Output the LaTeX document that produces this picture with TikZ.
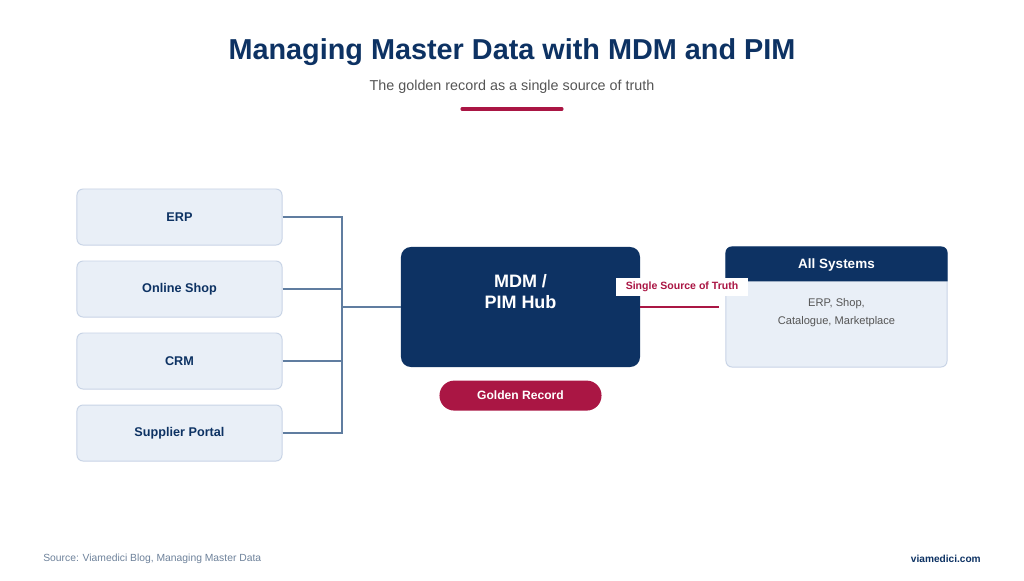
\documentclass[tikz,border=0pt]{standalone}
\usepackage{fontspec}
\setmainfont{Liberation Sans}
\usetikzlibrary{positioning,calc}
\definecolor{navy}{RGB}{13,50,99}
\definecolor{crimson}{RGB}{170,22,68}
\definecolor{paleblue}{RGB}{233,239,247}
\definecolor{paleedge}{RGB}{200,212,230}
\definecolor{steel}{RGB}{96,125,160}
\definecolor{subgray}{RGB}{85,85,85}
\definecolor{footgray}{RGB}{110,130,155}
\tikzset{
  source/.style={rectangle, rounded corners=4.3pt, draw=paleedge, line width=0.7pt,
    fill=paleblue, minimum width=5.125cm, minimum height=1.4cm, inner sep=0pt,
    text=navy, font=\fontsize{9}{11}\selectfont\bfseries},
  hubbox/.style={rectangle, rounded corners=7.1pt, fill=navy,
    minimum width=5.975cm, minimum height=3cm, inner sep=0pt},
  pill/.style={rectangle, rounded corners=10.6pt, fill=crimson, text=white,
    minimum width=4.05cm, minimum height=0.75cm, inner sep=0pt,
    font=\fontsize{8.6}{10}\selectfont\bfseries},
  feed/.style={draw=steel, line width=1.4pt},
  truth/.style={draw=crimson, line width=1.4pt},
}

\begin{document}
\begin{tikzpicture}[x=0.025cm, y=-0.025cm]
    \useasboundingbox[fill=white] (0,0) rectangle (1024,580);
    % heading
    \node[text=navy, font=\fontsize{20.5}{24}\selectfont\bfseries] (title) at (512,52) {Managing Master Data with MDM and PIM};
    \node[text=subgray, font=\fontsize{10.2}{12}\selectfont] (subtitle) at (512,87) {The golden record as a single source of truth};
    \coordinate (barl) at (462,109);
    \coordinate (barr) at (562,109);
    \draw[crimson, line width=2.2pt, line cap=round] (barl) -- (barr);

    % source systems
    \node[source] (erp) at (179.5,217) {ERP};
    \node[source, below=3.75mm of erp] (shop) {Online Shop};
    \node[source, below=3.75mm of shop] (crm) {CRM};
    \node[source, below=3.75mm of crm] (portal) {Supplier Portal};

    % hub
    \node[hubbox] (hub) at (520.5,307) {};
    \node[text=white, align=center, font=\fontsize{12.8}{15.5}\selectfont\bfseries] (hubtext) at (520.5,291.5) {MDM /\\PIM Hub};
    \node[pill, below=3.25mm of hub] (golden) {Golden Record};

    % target systems
    \node[rectangle, rounded corners=4.3pt, draw=paleedge, line width=0.7pt, fill=paleblue,
      minimum width=5.525cm, minimum height=3cm, inner sep=0pt] (sys) at (836.5,307) {};
    \fill[navy] ($(sys.north west)+(0,35)$) [rounded corners=4.3pt] -- (sys.north west)
      -- (sys.north east) [sharp corners] -- ($(sys.north east)+(0,35)$) -- cycle;
    \node[text=white, font=\fontsize{9.6}{11}\selectfont\bfseries] (systitle) at (836.5,265) {All Systems};
    \node[text=subgray, align=center, font=\fontsize{7.9}{12.8}\selectfont] (syslist) at (836.5,313) {ERP, Shop,\\Catalogue, Marketplace};

    % connectors
    \coordinate (bus) at (342,307);
    \draw[feed] (erp.east) -| (bus);
    \draw[feed] (shop.east) -- (shop.east -| bus);
    \draw[feed] (crm.east) -- (crm.east -| bus);
    \draw[feed] (portal.east) -| (bus);
    \draw[feed] (bus) -- (hub.west);
    \draw[truth, shorten >=4.3pt] (hub.east) -- (sys.west);
    \node[fill=white, text=crimson, inner xsep=7pt, inner ysep=3.2pt,
      font=\fontsize{7.5}{8}\selectfont\bfseries] (ssot) at (682,287) {Single Source of Truth};

    % footer
    \node[anchor=west, inner sep=0pt, text=footgray, font=\fontsize{7.35}{8}\selectfont] (src) at (43,559) {Source: Viamedici Blog, Managing Master Data};
    \node[anchor=east, inner sep=0pt, text=navy, font=\fontsize{7.2}{8}\selectfont\bfseries] (site) at (981,559) {viamedici.com};
\end{tikzpicture}
\end{document}
